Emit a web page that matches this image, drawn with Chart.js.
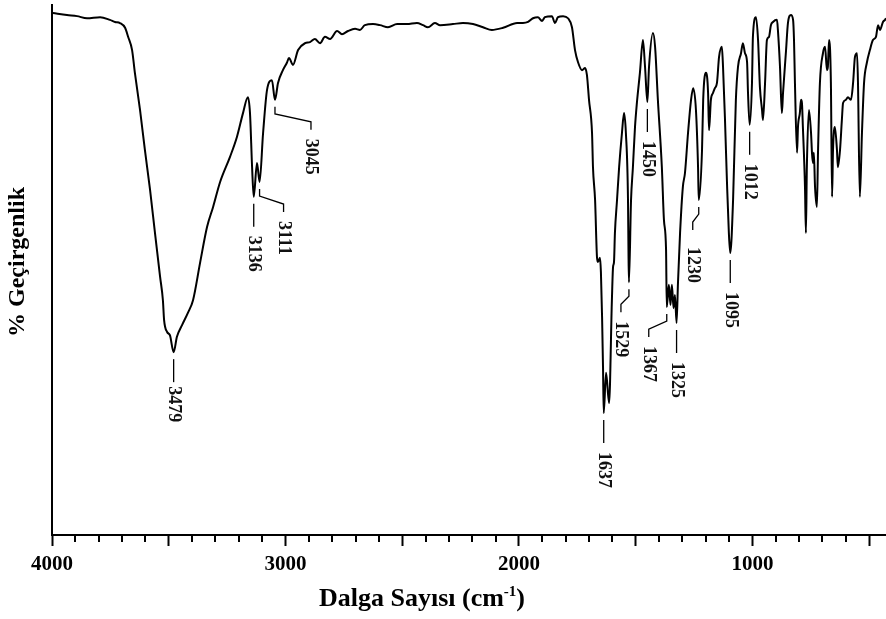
<!DOCTYPE html>
<html lang="tr">
<head>
<meta charset="utf-8">
<title>FT-IR Spektrumu</title>
<script src="https://cdn.jsdelivr.net/npm/chart.js@4.4.1/dist/chart.umd.min.js"></script>
<style>
  html, body { margin: 0; padding: 0; background: #fff; }
  #wrap { width: 886px; height: 619px; }
</style>
</head>
<body>
<div id="wrap"><canvas id="irChart" width="886" height="619"></canvas></div>
<script>
// wavenumber (cm-1), from 4000 down
const wavenumbers = [
  3996, 3936, 3893, 3850, 3794, 3752, 3730, 3709, 3687, 3674,
  3657, 3645, 3623, 3602, 3580, 3559, 3537, 3525, 3520, 3507,
  3495, 3479, 3465, 3443, 3418, 3396, 3366, 3336, 3310, 3280,
  3238, 3208, 3182, 3161, 3152, 3143, 3136, 3122, 3111, 3096,
  3079, 3058, 3045, 3032, 3011, 2994, 2985, 2968, 2946, 2916,
  2895, 2874, 2852, 2831, 2809, 2779, 2758, 2732, 2702, 2681,
  2660, 2625, 2595, 2561, 2522, 2480, 2437, 2411, 2390, 2360,
  2338, 2283, 2240, 2197, 2154, 2116, 2068, 2008, 1983, 1961,
  1940, 1919, 1901, 1889, 1859, 1846, 1833, 1811, 1790, 1773,
  1760, 1747, 1730, 1717, 1709, 1700, 1687, 1683, 1674, 1666,
  1662, 1653, 1649, 1644, 1640, 1637, 1627, 1614, 1602, 1597,
  1593, 1589, 1580, 1571, 1559, 1550, 1542, 1533, 1531, 1529,
  1520, 1512, 1503, 1495, 1482, 1469, 1460, 1450, 1443, 1426,
  1417, 1405, 1388, 1379, 1370, 1367, 1358, 1351, 1345, 1338,
  1332, 1325, 1319, 1310, 1298, 1289, 1276, 1263, 1254, 1242,
  1233, 1230, 1216, 1211, 1199, 1190, 1186, 1178, 1169, 1161,
  1152, 1143, 1131, 1126, 1118, 1109, 1101, 1095, 1083, 1071,
  1062, 1049, 1041, 1032, 1023, 1019, 1012, 1002, 998, 985,
  976, 968, 959, 955, 946, 938, 929, 921, 912, 895,
  891, 882, 874, 869, 856, 848, 835, 826, 822, 818,
  809, 805, 797, 792, 788, 784, 775, 771, 767, 758,
  749, 745, 741, 737, 732, 724, 719, 711, 698, 689,
  681, 677, 672, 664, 659, 655, 647, 638, 634, 625,
  617, 612, 600, 591, 578, 569, 561, 552, 548, 540,
  531, 522, 510, 497, 484, 471, 462, 454, 441, 432,
  428
]

// % transmittance at each wavenumber
const transmittance = [
  98.5, 98.1, 97.9, 97.5, 97.7, 97.2, 96.8, 96.6, 95.7, 94.0,
  91.5, 87.2, 80.2, 72.6, 65.1, 57.0, 48.7, 44.3, 40.6, 38.3,
  37.7, 34.5, 37.4, 39.6, 41.9, 44.3, 51.3, 58.1, 61.9, 66.6,
  71.3, 75.1, 79.6, 82.6, 79.6, 69.4, 63.8, 70.2, 66.6, 75.8,
  84.0, 85.8, 82.1, 85.3, 87.7, 89.1, 90.0, 88.7, 91.5, 92.8,
  93.0, 93.6, 92.8, 94.0, 93.6, 95.1, 94.5, 95.1, 95.5, 95.3,
  96.2, 96.4, 96.2, 95.8, 96.4, 96.4, 96.6, 96.2, 95.8, 96.6,
  96.2, 96.4, 96.6, 96.4, 95.8, 95.3, 95.7, 96.6, 96.6, 96.8,
  97.5, 97.7, 97.0, 97.7, 97.9, 96.6, 97.7, 97.9, 97.5, 95.8,
  91.5, 89.2, 87.7, 88.1, 86.8, 82.1, 75.8, 69.4, 63.2, 52.5,
  51.5, 52.3, 49.6, 41.1, 31.7, 23.0, 30.6, 24.9, 44.3, 50.6,
  51.5, 57.0, 63.2, 69.4, 75.8, 79.6, 75.8, 63.2, 53.8, 47.7,
  63.2, 69.4, 77.0, 81.5, 87.2, 93.4, 88.3, 81.7, 88.3, 94.7,
  92.1, 82.1, 69.4, 59.4, 53.8, 43.0, 47.2, 43.4, 47.2, 42.8,
  45.3, 40.0, 47.5, 57.0, 65.7, 68.3, 75.8, 82.1, 84.3, 80.2,
  69.4, 63.2, 72.6, 82.1, 87.2, 83.4, 76.4, 82.1, 83.4, 84.3,
  85.3, 90.2, 92.1, 88.3, 78.9, 66.4, 57.0, 53.2, 63.2, 82.1,
  88.3, 90.9, 92.8, 90.9, 89.2, 83.4, 77.4, 85.3, 94.0, 97.7,
  93.4, 84.5, 80.2, 78.3, 85.3, 93.4, 94.0, 96.2, 96.8, 97.2,
  95.3, 88.3, 79.6, 83.4, 91.5, 96.6, 98.1, 97.2, 93.4, 85.3,
  72.1, 77.0, 79.6, 82.1, 81.5, 77.0, 65.7, 57.0, 69.4, 80.2,
  75.8, 72.1, 70.2, 72.1, 65.7, 61.9, 72.6, 85.3, 90.9, 92.1,
  87.7, 88.3, 93.4, 85.3, 63.8, 72.6, 77.0, 72.6, 69.4, 72.6,
  78.3, 81.5, 82.1, 82.6, 82.1, 85.3, 90.2, 90.9, 85.3, 63.8,
  75.8, 85.3, 89.1, 91.5, 93.4, 94.0, 96.2, 95.3, 96.8, 97.2,
  97.5
]

// labelled band positions
const peakLabels = [3479, 3136, 3111, 3045, 1637, 1529, 1450, 1367, 1325, 1230, 1095, 1012]

// x axis ticks every 100 cm-1, labels every 1000
const tickValues = []
for (let v = 500; v <= 4000; v += 100) tickValues.push(v)
const tickLabels = [1000, 2000, 3000, 4000]

const xMin = 428
const xMax = 4000

const serif = "'Liberation Serif', 'Times New Roman', serif"

// leaders that bend sideways before the number
const leaderShift = { 3111: 24, 3045: 36, 1529: -8, 1367: -18, 1230: -6 }
const labelDrop = { 3479: -5, 1230: 8 }

const peakMarks = {
  id: "peakMarks",
  afterDatasetsDraw(chart) {
    const { ctx, scales: { x, y } } = chart
    ctx.save()
    ctx.strokeStyle = "#000"
    ctx.lineWidth = 1.3
    ctx.fillStyle = "#111"
    ctx.font = "bold 18px " + serif
    peakLabels.forEach((wn) => {
      const i = wavenumbers.indexOf(wn)
      const px = x.getPixelForValue(wn)
      const py = y.getPixelForValue(transmittance[i])
      const dx = leaderShift[wn] || 0
      ctx.beginPath()
      ctx.moveTo(px, py + 7)
      if (dx) {
        ctx.lineTo(px, py + 14)
        ctx.lineTo(px + dx, py + 22)
      }
      ctx.lineTo(px + dx, py + 30)
      ctx.stroke()

      ctx.save()
      ctx.translate(px + dx, py + 39 + (labelDrop[wn] || 0))
      ctx.rotate(Math.PI / 2)
      ctx.textAlign = "left"
      ctx.textBaseline = "middle"
      ctx.fillText(String(wn), 0, 0)
      ctx.restore()
    })
    ctx.restore()
  },
}

// minor ticks and the two axis titles
const axisExtras = {
  id: "axisExtras",
  afterDraw(chart) {
    const { ctx, chartArea, scales: { x } } = chart
    ctx.save()
    ctx.strokeStyle = "#000"
    ctx.lineWidth = 2
    tickValues.forEach((v) => {
      if (v % 500 === 0) return
      const px = Math.round(x.getPixelForValue(v))
      ctx.beginPath()
      ctx.moveTo(px, chartArea.bottom)
      ctx.lineTo(px, chartArea.bottom + 7)
      ctx.stroke()
    })

    ctx.fillStyle = "#000"
    ctx.save()
    ctx.translate(18, 262)
    ctx.rotate(-Math.PI / 2)
    ctx.font = "bold 24px " + serif
    ctx.textAlign = "center"
    ctx.textBaseline = "middle"
    ctx.fillText("% Geçirgenlik", 0, 0)
    ctx.restore()

    const big = "bold 26px " + serif
    const small = "bold 15px " + serif
    const partA = "Dalga Sayısı (cm"
    const partB = "-1"
    const partC = ")"
    ctx.font = big
    const wA = ctx.measureText(partA).width
    const wC = ctx.measureText(partC).width
    ctx.font = small
    const wB = ctx.measureText(partB).width
    let tx = 422 - (wA + wB + wC) / 2
    const base = 606
    ctx.textAlign = "left"
    ctx.textBaseline = "alphabetic"
    ctx.font = big
    ctx.fillText(partA, tx, base)
    tx += wA
    ctx.font = small
    ctx.fillText(partB, tx, base - 10)
    tx += wB
    ctx.font = big
    ctx.fillText(partC, tx, base)
    ctx.restore()
  },
}

document.addEventListener("DOMContentLoaded", () => {
  const points = wavenumbers.map((w, i) => ({ x: w, y: transmittance[i] }))

  new Chart(document.getElementById("irChart"), {
    type: "line",
    data: {
      datasets: [
        {
          data: points,
          borderColor: "#000",
          borderWidth: 2,
          pointRadius: 0,
          fill: false,
          cubicInterpolationMode: "monotone",
        },
      ],
    },
    options: {
      responsive: false,
      animation: false,
      devicePixelRatio: 1,
      events: [],
      layout: { padding: { top: 5, left: 0, right: 0, bottom: 0 } },
      plugins: {
        legend: { display: false },
        tooltip: { enabled: false },
      },
      scales: {
        x: {
          type: "linear",
          reverse: true,
          min: xMin,
          max: xMax,
          afterBuildTicks: (scale) => {
            scale.ticks = tickValues.map((v) => ({ value: v }))
          },
          afterFit: (scale) => {
            scale.height = 84
          },
          border: { display: true, color: "#000", width: 2 },
          grid: {
            drawOnChartArea: false,
            drawTicks: true,
            tickLength: 11,
            tickWidth: 2,
            tickColor: (c) => (c.tick && c.tick.value % 500 === 0 ? "#000" : "rgba(0,0,0,0)"),
          },
          ticks: {
            autoSkip: false,
            maxRotation: 0,
            padding: 6,
            color: "#000",
            font: { family: serif, size: 21, weight: "bold" },
            callback: (v) => (tickLabels.includes(v) ? String(v) : ""),
          },
        },
        y: {
          min: 0,
          max: 100,
          afterFit: (scale) => {
            scale.width = 52
          },
          border: { display: true, color: "#000", width: 2 },
          grid: { display: false, drawTicks: false },
          ticks: { display: false },
        },
      },
    },
    plugins: [peakMarks, axisExtras],
  })
})
</script>
</body>
</html>
